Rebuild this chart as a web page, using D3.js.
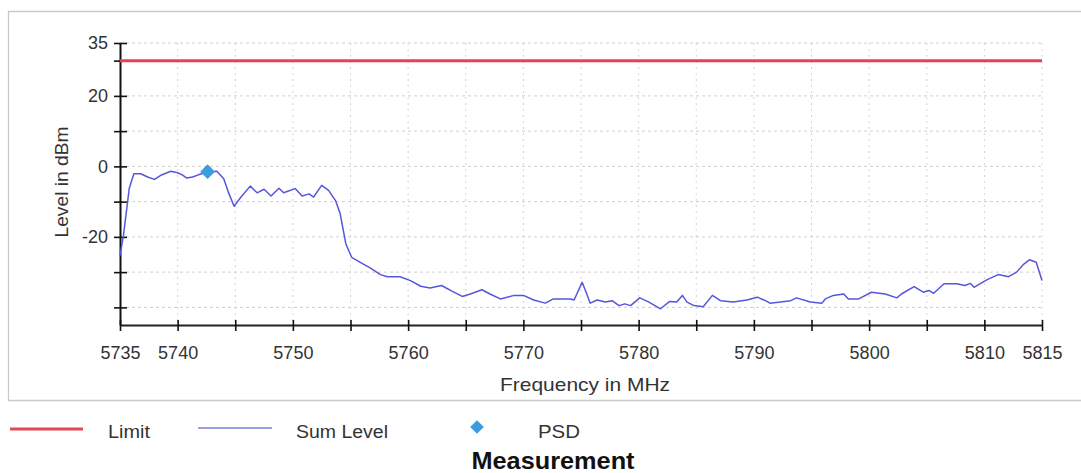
<!DOCTYPE html>
<html><head><meta charset="utf-8">
<script src="https://cdn.jsdelivr.net/npm/d3@7"></script>
<style>
html,body{margin:0;padding:0;background:#fff;}
svg{display:block;font-family:"Liberation Sans",Arial,sans-serif;}
</style></head>
<body>
<svg id="chart" width="1081" height="473"></svg>
<script>
// ---- data ----
const freqDomain = [5735, 5815];
const levelDomain = [-45, 35];
const xTickValues = [5735,5740,5745,5750,5755,5760,5765,5770,5775,5780,5785,5790,5795,5800,5805,5810,5815];
const xTickLabels = {5735:"5735",5740:"5740",5750:"5750",5760:"5760",5770:"5770",5780:"5780",5790:"5790",5800:"5800",5810:"5810",5815:"5815"};
const yTickValues = [35,30,20,10,0,-10,-20,-30,-40];
const yTickLabels = {35:"35",20:"20",0:"0","-20":"-20"};
const limitLevel = 30;
const psdPoint = [5742.6, -1.5];
const sumFreq = [5735.0,5735.3,5735.8,5736.2,5736.8,5737.4,5738.0,5738.5,5739.4,5740.0,5740.4,5740.8,5741.3,5741.8,5742.6,5743.4,5744.0,5744.4,5744.9,5745.5,5746.3,5746.9,5747.5,5748.1,5748.8,5749.2,5750.2,5750.8,5751.4,5751.8,5752.5,5753.1,5753.7,5754.1,5754.6,5755.1,5756.0,5756.7,5757.6,5758.2,5759.3,5760.2,5761.1,5761.9,5762.9,5763.8,5764.7,5765.4,5766.4,5767.1,5768.0,5769.2,5770.0,5770.9,5771.9,5772.6,5774.1,5774.4,5775.1,5775.5,5775.8,5776.4,5777.1,5777.7,5778.3,5778.8,5779.3,5780.1,5780.9,5781.9,5782.7,5783.3,5783.8,5784.2,5784.8,5785.6,5786.4,5787.1,5788.2,5789.4,5790.3,5791.0,5791.4,5792.3,5793.2,5793.7,5794.9,5795.9,5796.2,5796.9,5797.8,5798.2,5799.1,5800.2,5801.4,5802.4,5802.8,5803.9,5804.7,5805.2,5805.6,5806.5,5807.6,5808.3,5808.8,5809.1,5810.2,5811.2,5812.1,5812.8,5813.4,5813.9,5814.5,5815.0];
const sumLevel = [-25.3,-19.6,-6.3,-2.1,-2.1,-3.0,-3.7,-2.6,-1.4,-1.8,-2.4,-3.3,-3.0,-2.4,-1.6,-1.4,-3.5,-7.3,-11.3,-8.7,-5.6,-7.5,-6.5,-8.4,-6.2,-7.5,-6.3,-8.4,-7.8,-8.7,-5.4,-6.8,-9.7,-13.4,-22.0,-25.8,-27.5,-28.8,-30.7,-31.3,-31.3,-32.4,-34.0,-34.5,-33.8,-35.4,-36.9,-36.2,-35.0,-36.2,-37.6,-36.6,-36.6,-37.9,-38.8,-37.6,-37.6,-37.9,-32.9,-36.2,-38.8,-37.9,-38.5,-38.1,-39.5,-39.0,-39.5,-37.3,-38.5,-40.4,-38.3,-38.5,-36.6,-38.5,-39.5,-39.8,-36.6,-38.1,-38.5,-37.9,-37.1,-38.1,-38.8,-38.5,-38.1,-37.3,-38.5,-38.8,-37.6,-36.6,-36.2,-37.6,-37.6,-35.7,-36.2,-37.3,-36.2,-34.1,-35.7,-35.2,-36.0,-33.3,-33.3,-33.8,-33.2,-34.3,-32.2,-30.7,-31.3,-30.0,-27.8,-26.5,-27.2,-32.4];
const legendNames = ["Limit","Sum Level","PSD"];
const chartTitle = "Measurement";
const xAxisTitle = "Frequency in MHz";
const yAxisTitle = "Level in dBm";

// ---- drawing ----
(function(){
const svg = d3.select("#chart");
const pL = 120, pR = 1042, pT = 43, pB = 325;
const x = d3.scaleLinear().domain(freqDomain).range([pL, pR]);
const y = d3.scaleLinear().domain(levelDomain).range([pB, pT]);
const txt = "#333";

// frame
svg.append("path").attr("d","M1085,11.5 H8.5 V400.5 H1085")
  .attr("fill","none").attr("stroke","#c9c9c9").attr("stroke-width",1.3);

// grid
const grid = svg.append("g");
grid.selectAll(".gx").data(xTickValues.slice(1)).enter().append("line")
  .attr("x1",d=>x(d)).attr("x2",d=>x(d)).attr("y1",pT).attr("y2",pB)
  .attr("stroke","#d4d4d4").attr("stroke-dasharray","2,4").attr("stroke-width",1);
grid.selectAll(".gy").data(yTickValues).enter().append("line")
  .attr("x1",pL).attr("x2",pR).attr("y1",d=>y(d)).attr("y2",d=>y(d))
  .attr("stroke","#cfcfcf").attr("stroke-dasharray","3,3").attr("stroke-width",1);

// axes
const yAxis = d3.axisLeft(y).tickValues(yTickValues).tickSizeInner(6).tickSizeOuter(0)
  .tickFormat(d=> yTickLabels[d] !== undefined ? yTickLabels[d] : "");
const gy = svg.append("g").attr("transform",`translate(${pL},0)`).call(yAxis);
gy.select(".domain").attr("stroke","#111").attr("stroke-width",2);
gy.selectAll(".tick line").attr("x2",-6).attr("x1",7).attr("stroke","#111").attr("stroke-width",1.6);
gy.selectAll(".tick text").attr("x",-12).attr("font-size",18).attr("fill",txt)
  .attr("font-family","'Liberation Sans',Arial,sans-serif");

const xAxis = d3.axisBottom(x).tickValues(xTickValues).tickSizeInner(5).tickSizeOuter(0)
  .tickFormat(d=> xTickLabels[d] || "");
const gx = svg.append("g").attr("transform",`translate(0,${pB})`).call(xAxis);
gx.select(".domain").attr("stroke","#222").attr("stroke-width",2.2);
gx.selectAll(".tick line").attr("y1",-5).attr("y2",6).attr("stroke","#111").attr("stroke-width",1.6);
gx.selectAll(".tick text").attr("y",21).attr("font-size",18).attr("fill",txt)
  .attr("font-family","'Liberation Sans',Arial,sans-serif");

// limit line
svg.append("line").attr("x1",x(freqDomain[0])).attr("x2",x(freqDomain[1]))
  .attr("y1",y(limitLevel)).attr("y2",y(limitLevel))
  .attr("stroke","#e8404f").attr("stroke-width",3);

// sum level line
const pts = sumFreq.map((f,i)=>[f,sumLevel[i]]);
svg.append("path").datum(pts)
  .attr("d",d3.line().x(d=>x(d[0])).y(d=>y(d[1])))
  .attr("fill","none").attr("stroke","#5656dc").attr("stroke-width",1.5).attr("stroke-linejoin","round");

// PSD diamond
const diamond = d3.symbol().type(d3.symbolDiamond2).size(140);
svg.append("path").attr("d",diamond())
  .attr("transform",`translate(${x(psdPoint[0])},${y(psdPoint[1])})`)
  .attr("fill","#3c9ce0");

// axis titles
svg.append("text").attr("transform","translate(68,182) rotate(-90)")
  .attr("text-anchor","middle").attr("font-size",18.5).attr("fill",txt)
  .attr("textLength",111).attr("lengthAdjust","spacingAndGlyphs").text(yAxisTitle);
svg.append("text").attr("x",585).attr("y",391)
  .attr("text-anchor","middle").attr("font-size",19).attr("fill",txt)
  .attr("textLength",170).attr("lengthAdjust","spacingAndGlyphs").text(xAxisTitle);

// legend
const lg = svg.append("g");
lg.append("line").attr("x1",10).attr("x2",83).attr("y1",429).attr("y2",429).attr("stroke","#e04a56").attr("stroke-width",3);
lg.append("text").attr("x",108).attr("y",438).attr("font-size",18).attr("fill",txt)
  .attr("textLength",42).attr("lengthAdjust","spacingAndGlyphs").text(legendNames[0]);
lg.append("line").attr("x1",198).attr("x2",272).attr("y1",428).attr("y2",428).attr("stroke","#7c7ce2").attr("stroke-width",1.6);
lg.append("text").attr("x",296).attr("y",438).attr("font-size",18).attr("fill",txt)
  .attr("textLength",92).attr("lengthAdjust","spacingAndGlyphs").text(legendNames[1]);
lg.append("path").attr("d",d3.symbol().type(d3.symbolDiamond2).size(120)()).attr("transform","translate(477,427)").attr("fill","#3c9ce0");
lg.append("text").attr("x",538).attr("y",438).attr("font-size",18).attr("fill",txt)
  .attr("textLength",42).attr("lengthAdjust","spacingAndGlyphs").text(legendNames[2]);
svg.append("text").attr("x",553).attr("y",469).attr("text-anchor","middle")
  .attr("font-size",24).attr("font-weight","bold").attr("fill","#111")
  .attr("textLength",163).attr("lengthAdjust","spacingAndGlyphs").text(chartTitle);
})();
</script>
</body></html>
